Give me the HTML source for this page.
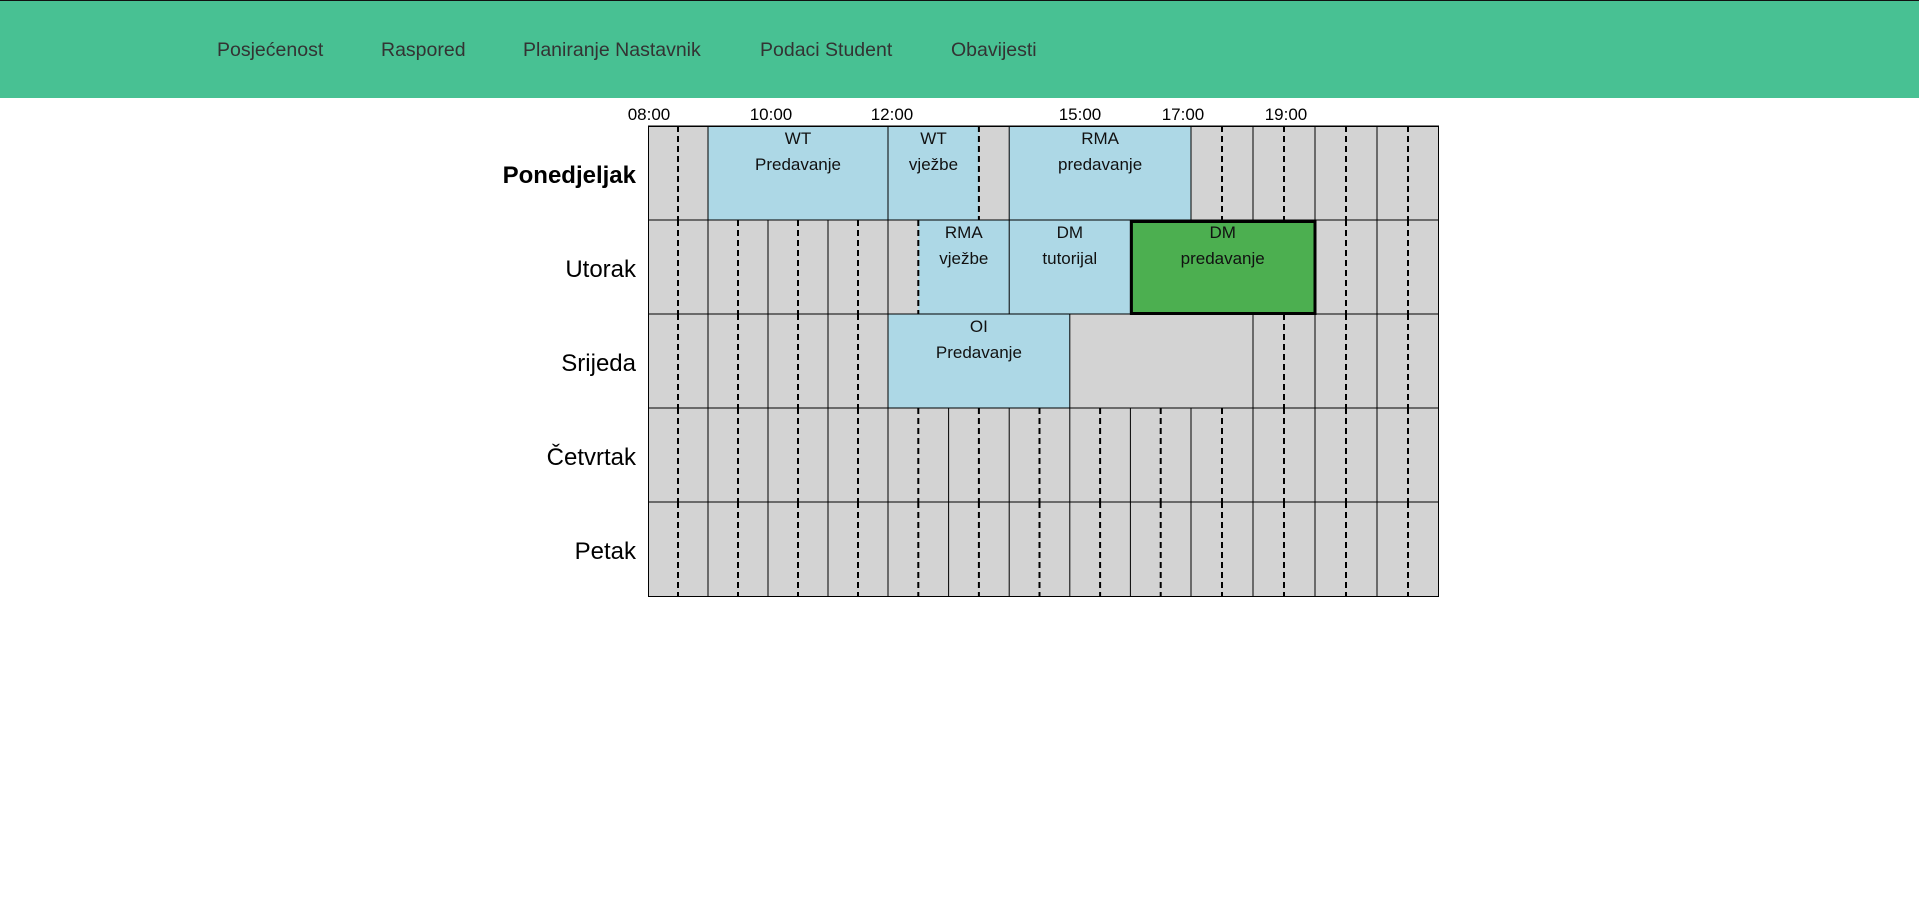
<!DOCTYPE html>
<html><head><meta charset="utf-8"><style>
html,body{margin:0;padding:0;background:#fff;width:1919px;height:899px;overflow:hidden}
.hdr{position:absolute;left:0;top:0;width:1919px;height:98px;background:#48c193;border-top:1px solid #111;box-sizing:border-box}
.nav{position:absolute;top:38px;font-family:"Liberation Sans",sans-serif;font-size:19.5px;color:#333}
svg{position:absolute;left:0;top:0}
</style></head><body>
<div class="hdr">
<span class="nav" style="left:217px">Posjećenost</span>
<span class="nav" style="left:381px">Raspored</span>
<span class="nav" style="left:523px">Planiranje Nastavnik</span>
<span class="nav" style="left:760px">Podaci Student</span>
<span class="nav" style="left:951px">Obavijesti</span>
</div>
<svg id="s" width="1919" height="899" xmlns="http://www.w3.org/2000/svg" font-family="Liberation Sans, sans-serif"></svg>
<script>
var L=648,R=1439,T=126,H=94;
function XV(k){ if(k<=8) return L+k*30; if(k<=18) return 888+(k-8)*30.3; return 1191+(k-18)*31; }
function X(k){return XV(k).toFixed(1);}
var s='';
var times=[['08:00',649],['10:00',771],['12:00',892],['15:00',1080],['17:00',1183],['19:00',1286]];
times.forEach(function(t){s+='<text x="'+t[1]+'" y="120" font-size="17" text-anchor="middle" fill="#000">'+t[0]+'</text>';});
var days=['Ponedjeljak','Utorak','Srijeda','Četvrtak','Petak'];
var segs=[
 [[2,8,'#add8e6',['WT','Predavanje']],[8,11,'#add8e6',['WT','vježbe']],[12,18,'#add8e6',['RMA','predavanje']]],
 [[9,12,'#add8e6',['RMA','vježbe']],[12,16,'#add8e6',['DM','tutorijal']],[16,22,'#4caf50',['DM','predavanje'],1]],
 [[8,14,'#add8e6',['OI','Predavanje']],[14,20,'#d3d3d3',[]]],
 [],[]];
for(var r=0;r<5;r++){
 var y=T+r*H;
 s+='<rect x="'+L+'" y="'+y+'" width="'+(R-L)+'" height="'+H+'" fill="#d3d3d3"/>';
 segs[r].forEach(function(g){
  s+='<rect x="'+X(g[0])+'" y="'+y+'" width="'+(XV(g[1])-XV(g[0])).toFixed(1)+'" height="'+H+'" fill="'+g[2]+'"/>';
  g[3].forEach(function(t,i){s+='<text x="'+((XV(g[0])+XV(g[1]))/2).toFixed(1)+'" y="'+(y+18+i*26)+'" font-size="17" text-anchor="middle" fill="#111">'+t+'</text>';});
 });
 for(var k=1;k<26;k++){
  var inside=segs[r].some(function(g){return k>g[0]&&k<g[1];});
  if(inside)continue;
  if(k%2==1) s+='<line x1="'+X(k)+'" y1="'+y+'" x2="'+X(k)+'" y2="'+(y+H)+'" stroke="#000" stroke-width="2" stroke-dasharray="6,4"/>';
  else s+='<line x1="'+X(k)+'" y1="'+y+'" x2="'+X(k)+'" y2="'+(y+H)+'" stroke="#000" stroke-width="1"/>';
 }
 s+='<line x1="'+L+'" y1="'+y+'" x2="'+R+'" y2="'+y+'" stroke="#000" stroke-width="1"/>';
 var bold=r==0?' font-weight="bold"':'';
 s+='<text x="636" y="'+(y+H/2+10)+'" font-size="24" text-anchor="end" fill="#000"'+bold+'>'+days[r]+'</text>';
}
s+='<rect x="'+L+'.5" y="'+T+'.5" width="'+(R-L-1)+'" height="'+(5*H)+'" fill="none" stroke="#000" stroke-width="1"/>';
var gx=XV(16),gw=XV(22)-XV(16);
s+='<rect x="'+(gx+1).toFixed(1)+'" y="'+(T+H+1.5)+'" width="'+(gw-1).toFixed(1)+'" height="'+(H-2)+'" fill="none" stroke="#000" stroke-width="3"/>';
document.getElementById('s').innerHTML=s;
</script>
</body></html>
